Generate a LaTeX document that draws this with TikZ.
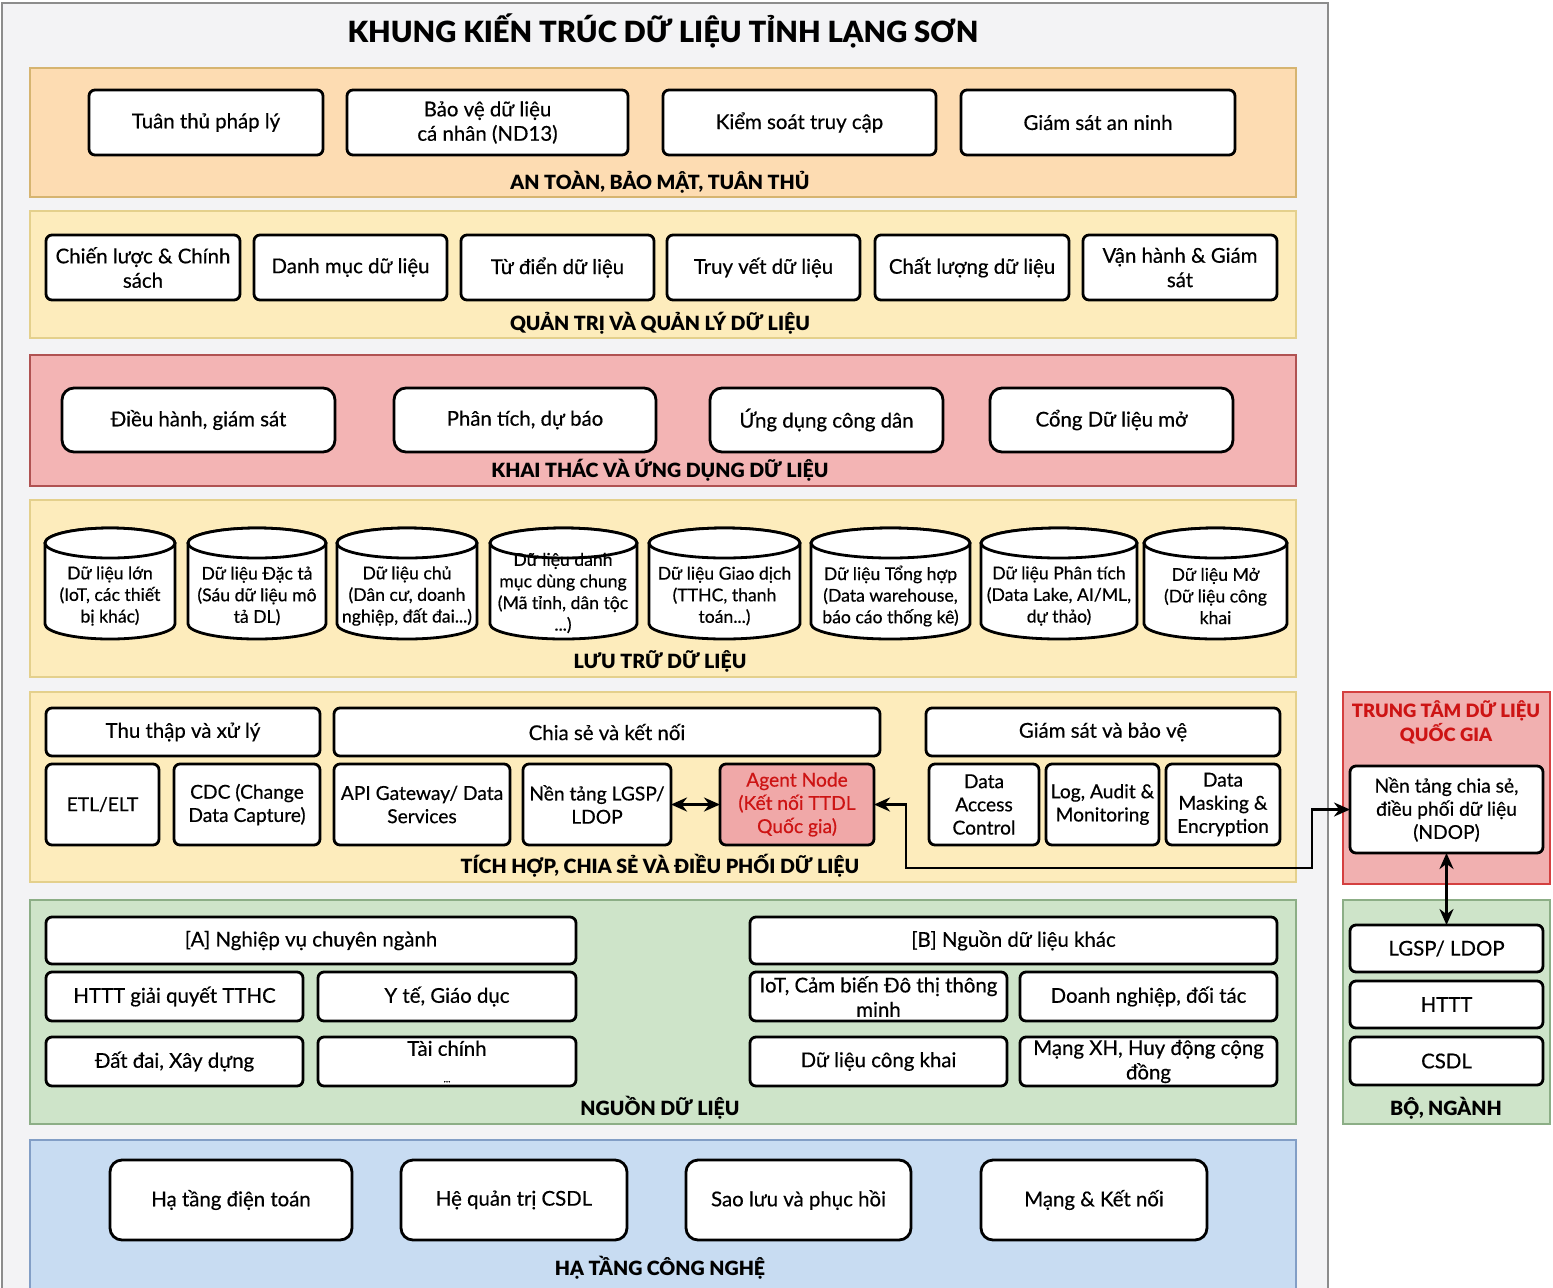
\documentclass[tikz,border=0pt]{standalone}
\usepackage{fontspec}
\setmainfont{Lato}
\newfontfamily\boxfont{Lato}[FakeBold=0.5]
\newfontfamily\headfont{Lato Black}
\usetikzlibrary{arrows.meta}
\definecolor{pagebg}{RGB}{243,243,245}
\definecolor{framec}{RGB}{140,140,140}
\definecolor{orfill}{RGB}{253,220,178}
\definecolor{ordraw}{RGB}{214,180,112}
\definecolor{yefill}{RGB}{253,236,188}
\definecolor{yedraw}{RGB}{228,208,140}
\definecolor{pkfill}{RGB}{243,180,180}
\definecolor{pkdraw}{RGB}{176,82,82}
\definecolor{grfill}{RGB}{206,228,201}
\definecolor{grdraw}{RGB}{140,174,134}
\definecolor{blfill}{RGB}{200,220,242}
\definecolor{bldraw}{RGB}{130,158,198}
\definecolor{rpfill}{RGB}{241,176,176}
\definecolor{rpdraw}{RGB}{212,64,64}
\definecolor{agfill}{RGB}{240,168,168}
\definecolor{redtxt}{RGB}{205,20,20}
\tikzset{
  box/.style={draw=black, line width=1.4pt, fill=white, rounded corners=3pt,
    inner sep=0pt, outer sep=0pt, align=center, font=\boxfont\fontsize{10.2}{12.2}\selectfont},
  small/.style={font=\boxfont\fontsize{9.6}{11.6}\selectfont},
  rbox/.style={rounded corners=6pt},
  layerbox/.style={line width=1pt, sharp corners},
  lab/.style={font=\headfont\fontsize{9.8}{12}\selectfont, inner sep=0pt},
  cylpath/.style={draw=black, line width=1.4pt, fill=white},
  cyltext/.style={align=center, font=\boxfont\fontsize{8.8}{10.8}\selectfont, inner sep=0pt},
  arr/.style={line width=1.4pt, {Stealth[length=8pt,width=7pt]}-{Stealth[length=8pt,width=7pt]}},
}
\newcommand\bx[7][]{%
  \pgfmathsetmacro\bw{(#5-#3)*0.5}%
  \pgfmathsetmacro\bh{(#6-#4)*0.5}%
  \node[box,#1,minimum width=\bw pt,minimum height=\bh pt] (#2) at ({(#3+#5)/2},{(#4+#6)/2}) {#7};}
\newcommand\cy[4]{%
  \pgfmathsetmacro\rx{(#3-#2)*0.25}%
  \draw[cylpath] (#2,543) -- (#2,624) arc[start angle=180,end angle=360,x radius=\rx pt,y radius=7.5pt]
     -- (#3,543) arc[start angle=0,end angle=180,x radius=\rx pt,y radius=7.5pt] -- cycle;
  \draw[cylpath] ({(#2+#3)/2},543) ellipse[x radius=\rx pt,y radius=7.5pt];
  \node[cyltext] (#1) at ({(#2+#3)/2},596) {#4};}
\begin{document}
\begin{tikzpicture}[x=0.5pt,y=-0.5pt]
\useasboundingbox (0,0) rectangle (1553,1287);
\fill[white] (0,0) rectangle (1553,1287);
% outer frame
\bx[layerbox,fill=pagebg,draw=framec,line width=1.2pt]{frame}{2}{3}{1328}{1300}{}
\node[font=\headfont\fontsize{14.6}{18}\selectfont, inner sep=0pt] (title) at (663,31) {KHUNG KIẾN TRÚC DỮ LIỆU TỈNH LẠNG SƠN};

% ---- Layer 1
\bx[layerbox,fill=orfill,draw=ordraw]{L1}{30}{68}{1296}{197}{}
\bx{a1}{89}{90}{323}{155}{Tuân thủ pháp lý}
\bx{a2}{347}{90}{628}{155}{Bảo vệ dữ liệu\\cá nhân (ND13)}
\bx{a3}{663}{90}{936}{155}{Kiểm soát truy cập}
\bx{a4}{961}{90}{1235}{155}{Giám sát an ninh}
\node[lab] (l1) at (660,182) {AN TOÀN, BẢO MẬT, TUÂN THỦ};

% ---- Layer 2
\bx[layerbox,fill=yefill,draw=yedraw]{L2}{30}{211}{1296}{338}{}
\bx{b1}{46}{235}{240}{300}{Chiến lược \& Chính\\sách}
\bx{b2}{254}{235}{447}{300}{Danh mục dữ liệu}
\bx{b3}{461}{235}{654}{300}{Từ điển dữ liệu}
\bx{b4}{667}{235}{860}{300}{Truy vết dữ liệu}
\bx{b5}{875}{235}{1069}{300}{Chất lượng dữ liệu}
\bx{b6}{1083}{235}{1277}{300}{Vận hành \& Giám\\sát}
\node[lab] (l2) at (660,323) {QUẢN TRỊ VÀ QUẢN LÝ DỮ LIỆU};

% ---- Layer 3
\bx[layerbox,fill=pkfill,draw=pkdraw]{L3}{30}{355}{1296}{486}{}
\bx[rbox]{c1}{62}{388}{335}{452}{Điều hành, giám sát}
\bx[rbox]{c2}{394}{388}{656}{452}{Phân tích, dự báo}
\bx[rbox]{c3}{710}{388}{943}{452}{Ứng dụng công dân}
\bx[rbox]{c4}{990}{388}{1233}{452}{Cổng Dữ liệu mở}
\node[lab] (l3) at (660,470) {KHAI THÁC VÀ ỨNG DỤNG DỮ LIỆU};

% ---- Layer 4
\bx[layerbox,fill=yefill,draw=yedraw]{L4}{30}{500}{1296}{677}{}
\cy{d1}{45}{175}{Dữ liệu lớn\\(IoT, các thiết\\bị khác)}
\cy{d2}{188}{326}{Dữ liệu Đặc tả\\(Sáu dữ liệu mô\\tả DL)}
\cy{d3}{337}{477}{Dữ liệu chủ\\(Dân cư, doanh\\nghiệp, đất đai...)}
\cy{d5}{649}{800}{Dữ liệu Giao dịch\\(TTHC, thanh\\toán...)}
\cy{d6}{811}{970}{Dữ liệu Tổng hợp\\(Data warehouse,\\báo cáo thống kê)}
\cy{d7}{981}{1137}{Dữ liệu Phân tích\\(Data Lake, AI/ML,\\dự thảo)}
\cy{d8}{1144}{1287}{Dữ liệu Mở\\(Dữ liệu công\\khai}
\cy{d4}{490}{637}{}
\node[cyltext] (d4t) at (563,593) {Dữ liệu danh\\mục dùng chung\\(Mã tỉnh, dân tộc\\...)};
\node[lab] (l4) at (660,661) {LƯU TRỮ DỮ LIỆU};

% ---- Layer 5
\bx[layerbox,fill=yefill,draw=yedraw]{L5}{30}{692}{1296}{882}{}
\bx{e1}{46}{708}{320}{756}{Thu thập và xử lý}
\bx{e2}{334}{708}{880}{756}{Chia sẻ và kết nối}
\bx{e3}{926}{708}{1280}{756}{Giám sát và bảo vệ}
\bx[small]{etl}{46}{764}{159}{845}{ETL/ELT}
\bx[small]{cdc}{174}{764}{320}{845}{CDC (Change\\Data Capture)}
\bx[small]{api}{334}{764}{510}{845}{API Gateway/ Data\\Services}
\bx[small]{lgsp}{523}{764}{671}{845}{Nền tảng LGSP/\\LDOP}
\bx[small,fill=agfill,text=redtxt]{agent}{720}{764}{874}{845}{Agent Node\\(Kết nối TTDL\\Quốc gia)}
\bx[small]{dac}{929}{764}{1039}{845}{Data\\Access\\Control}
\bx[small]{log}{1046}{764}{1159}{845}{Log, Audit \&\\Monitoring}
\bx[small]{mask}{1166}{764}{1280}{845}{Data\\Masking \&\\Encryption}
\node[lab] (l5) at (660,866) {TÍCH HỢP, CHIA SẺ VÀ ĐIỀU PHỐI DỮ LIỆU};

% ---- Layer 6
\bx[layerbox,fill=grfill,draw=grdraw]{L6}{30}{900}{1296}{1124}{}
\bx{fa}{46}{917}{576}{964}{[A] Nghiệp vụ chuyên ngành}
\bx{f1}{46}{972}{303}{1021}{HTTT giải quyết TTHC}
\bx{f2}{318}{972}{576}{1021}{Y tế, Giáo dục}
\bx{f3}{46}{1037}{303}{1086}{Đất đai, Xây dựng}
\bx{f4}{318}{1037}{576}{1086}{Tài chính\\[1pt]{\tiny ...}}
\bx{fb}{750}{917}{1277}{964}{[B] Nguồn dữ liệu khác}
\bx{g1}{750}{972}{1007}{1021}{IoT, Cảm biến Đô thị thông\\minh}
\bx{g2}{1020}{972}{1277}{1021}{Doanh nghiệp, đối tác}
\bx{g3}{750}{1037}{1007}{1086}{Dữ liệu công khai}
\bx{g4}{1020}{1037}{1277}{1086}{Mạng XH, Huy động cộng\\đồng}
\node[lab] (l6) at (660,1108) {NGUỒN DỮ LIỆU};

% ---- Layer 7
\bx[layerbox,fill=blfill,draw=bldraw]{L7}{30}{1140}{1296}{1300}{}
\bx[rbox]{h1}{110}{1160}{352}{1240}{Hạ tầng điện toán}
\bx[rbox]{h2}{401}{1160}{627}{1240}{Hệ quản trị CSDL}
\bx[rbox]{h3}{686}{1160}{911}{1240}{Sao lưu và phục hồi}
\bx[rbox]{h4}{981}{1160}{1207}{1240}{Mạng \& Kết nối}
\node[lab] (l7) at (660,1268) {HẠ TẦNG CÔNG NGHỆ};

% ---- Right: national data centre
\bx[layerbox,fill=rpfill,draw=rpdraw,line width=1.2pt]{R1}{1343}{692}{1550}{884}{}
\node[lab, text=redtxt, align=center, font=\headfont\fontsize{9.2}{10.5}\selectfont] (r1t) at (1446,722) {TRUNG TÂM DỮ LIỆU\\QUỐC GIA};
\bx[small]{ndop}{1350}{766}{1543}{853}{Nền tảng chia sẻ,\\điều phối dữ liệu\\(NDOP)}

% ---- Right: ministries
\bx[layerbox,fill=grfill,draw=grdraw]{R2}{1343}{900}{1550}{1124}{}
\bx{bn1}{1350}{925}{1543}{972}{LGSP/ LDOP}
\bx{bn2}{1350}{981}{1543}{1028}{HTTT}
\bx{bn3}{1350}{1037}{1543}{1085}{CSDL}
\node[lab] (r2t) at (1446,1108) {BỘ, NGÀNH};

% ---- connectors
\coordinate (k1) at (906,868);
\coordinate (k2) at (1312,868);
\draw[arr] (lgsp.east) -- (agent.west);
\draw[arr] (agent.east) -| (k1) -- (k2) |- (ndop.west);
\draw[arr] (ndop.south) -- (bn1.north);
\end{tikzpicture}
\end{document}
